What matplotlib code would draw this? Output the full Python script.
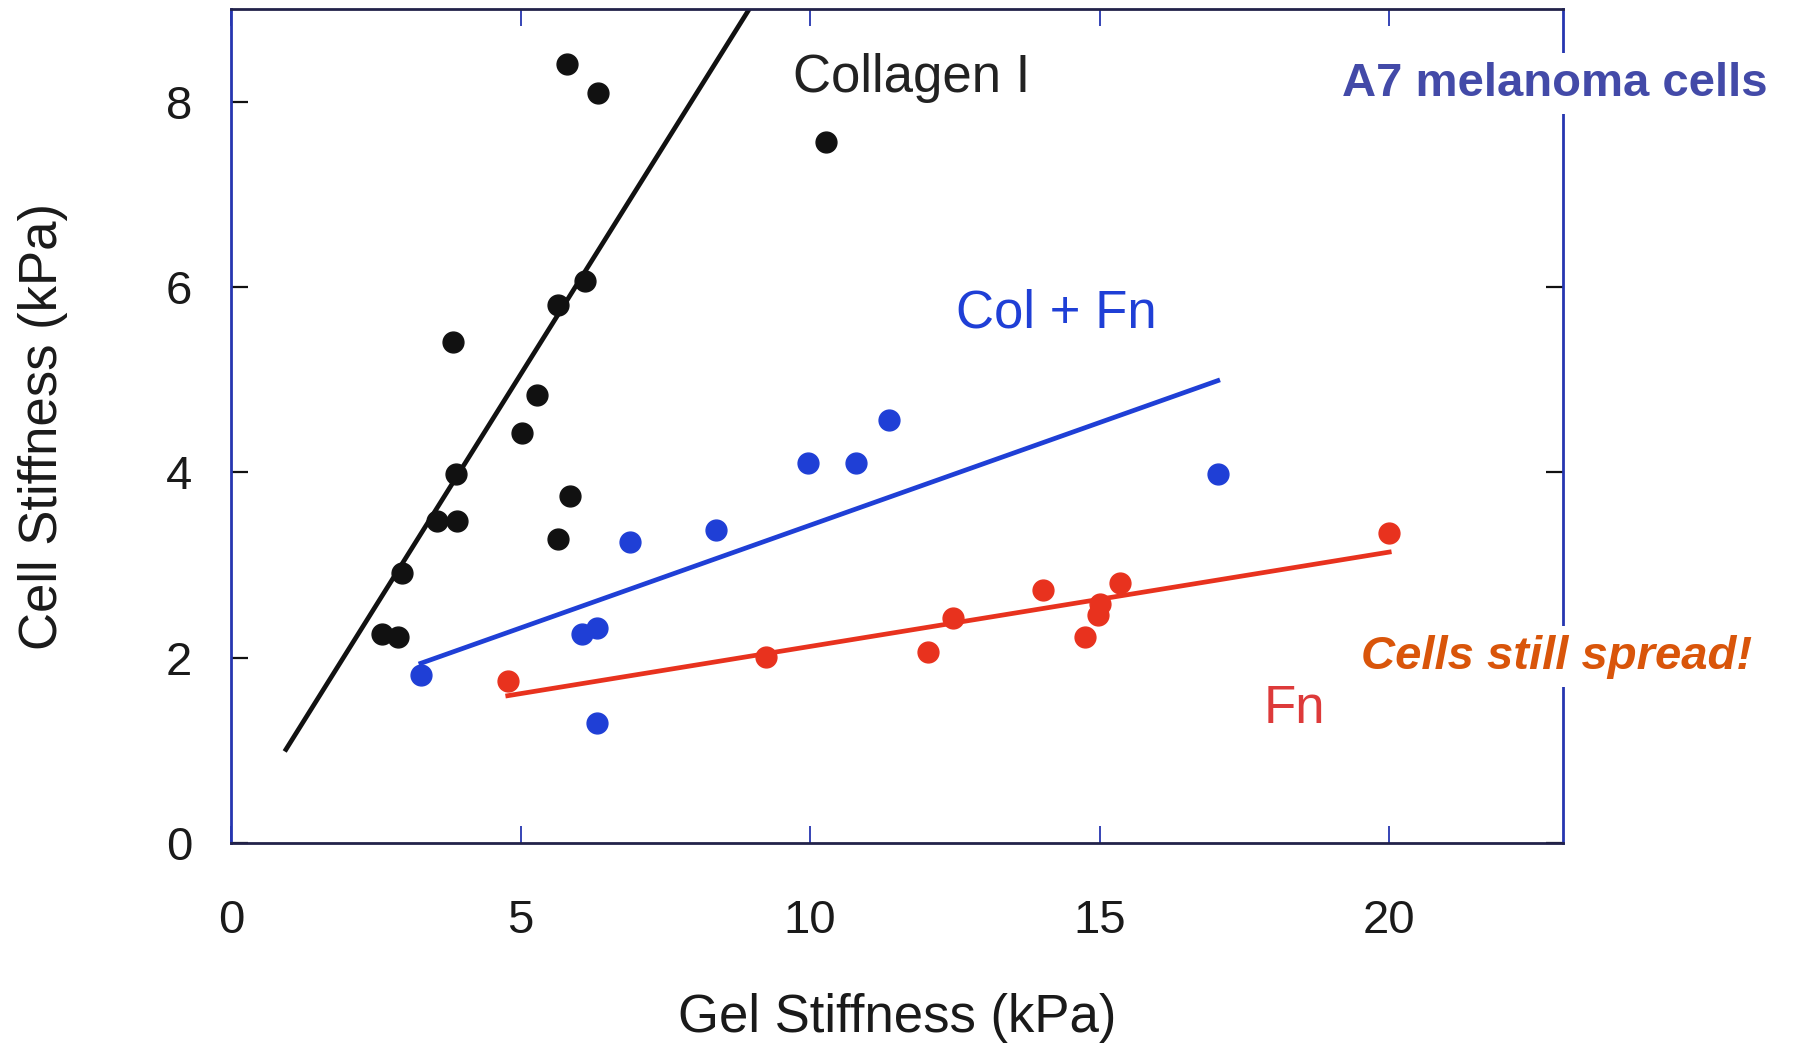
import matplotlib.pyplot as plt

plt.rcParams['font.family'] = ['Liberation Sans', 'DejaVu Sans']

# Collagen I (gel stiffness, cell stiffness), kPa
col_x = [5.80, 6.34, 10.27, 3.83, 5.65, 6.12, 5.29, 5.03, 3.89, 5.86, 3.55, 3.91, 5.65, 2.96, 2.61, 2.88]
col_y = [8.41, 8.09, 7.56, 5.41, 5.81, 6.06, 4.84, 4.43, 3.98, 3.75, 3.48, 3.47, 3.28, 2.91, 2.26, 2.22]
col_fit_x = [0.95, 8.95]
col_fit_y = [1.01, 9.0]

# Col + Fn
colfn_x = [3.28, 6.06, 6.32, 6.32, 6.89, 8.37, 9.97, 10.80, 11.37, 17.04]
colfn_y = [1.81, 2.26, 2.32, 1.30, 3.25, 3.38, 4.10, 4.10, 4.56, 3.98]
colfn_fit_x = [3.28, 17.04]
colfn_fit_y = [1.94, 4.99]

# Fn
fn_x = [4.78, 9.24, 12.04, 12.46, 14.02, 14.75, 14.97, 15.00, 15.36, 20.0]
fn_y = [1.75, 2.01, 2.06, 2.43, 2.73, 2.22, 2.46, 2.58, 2.81, 3.35]
fn_fit_x = [4.78, 20.0]
fn_fit_y = [1.59, 3.14]

xticks = [0, 5, 10, 15, 20]
yticks = [0, 2, 4, 6, 8]

black = '#111111'
blue = '#1f3fd6'
red = '#e8321e'

fig = plt.figure(figsize=(17.93, 10.5), dpi=100)
ax = fig.add_axes([0.1288, 0.1971, 0.7429, 0.7943])

ax.plot(col_fit_x, col_fit_y, color=black, lw=3.4, zorder=2)
ax.plot(colfn_fit_x, colfn_fit_y, color=blue, lw=3.4, zorder=2)
ax.plot(fn_fit_x, fn_fit_y, color=red, lw=3.4, zorder=2)

ax.plot(col_x, col_y, 'o', color=black, ms=15, zorder=3)
ax.plot(colfn_x, colfn_y, 'o', color=blue, ms=15, zorder=3)
ax.plot(fn_x, fn_y, 'o', color=red, ms=15, zorder=3)

ax.set_xlim(0, 23)
ax.set_ylim(0, 9)
ax.set_xticks(xticks)
ax.set_yticks(yticks)

for side in ['left', 'right']:
    ax.spines[side].set_color('#2636b0')
    ax.spines[side].set_linewidth(2)
for side in ['top', 'bottom']:
    ax.spines[side].set_color('#22224a')
    ax.spines[side].set_linewidth(2)

ax.tick_params(axis='x', direction='in', top=True, length=12, width=1.3,
               color='#2636b0', pad=40, labelsize=34, labelcolor='#1a1a1a')
ax.tick_params(axis='y', direction='in', right=True, length=12, width=1.6,
               color='#111111', pad=28, labelsize=34, labelcolor='#1a1a1a')

ax.set_xlabel('Gel Stiffness (kPa)', fontsize=38, color='#1a1a1a', labelpad=36)
ax.set_ylabel('Cell Stiffness (kPa)', fontsize=38, color='#1a1a1a', labelpad=70)

ax.text(11.76, 8.10, 'Collagen I', fontsize=38, color='#222222', ha='center', va='baseline')
ax.text(14.25, 5.56, 'Col + Fn', fontsize=38, color=blue, ha='center', va='baseline')
ax.text(18.36, 1.30, 'Fn', fontsize=38, color='#dd3a3a', ha='center', va='baseline')

fig.text(0.8673, 0.9086, 'A7 melanoma cells', fontsize=34, fontweight='bold',
         color='#434aa8', ha='center', va='baseline',
         bbox=dict(facecolor='white', edgecolor='none', pad=6))
fig.text(0.8684, 0.3629, 'Cells still spread!', fontsize=34, fontweight='bold',
         style='italic', color='#d9550a', ha='center', va='baseline',
         bbox=dict(facecolor='white', edgecolor='none', pad=6))

fig.savefig('out.png', dpi=100)
